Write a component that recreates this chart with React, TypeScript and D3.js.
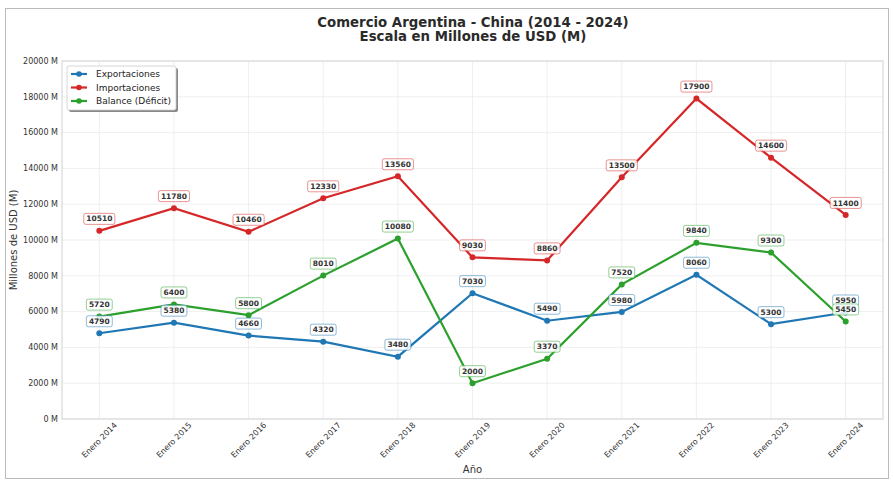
import React, { useEffect, useRef } from 'react';
import * as d3 from 'd3';

const years = ['Enero 2014', 'Enero 2015', 'Enero 2016', 'Enero 2017', 'Enero 2018', 'Enero 2019', 'Enero 2020', 'Enero 2021', 'Enero 2022', 'Enero 2023', 'Enero 2024'];
const exportaciones = [4790, 5380, 4660, 4320, 3480, 7030, 5490, 5980, 8060, 5300, 5950];
const importaciones = [10510, 11780, 10460, 12330, 13560, 9030, 8860, 13500, 17900, 14600, 11400];
const balance = [5720, 6400, 5800, 8010, 10080, 2000, 3370, 7520, 9840, 9300, 5450];
const yTicks = [0, 2000, 4000, 6000, 8000, 10000, 12000, 14000, 16000, 18000, 20000];

const series = [
  { name: 'Exportaciones', values: exportaciones, color: '#1f77b4' },
  { name: 'Importaciones', values: importaciones, color: '#d62728' },
  { name: 'Balance (Déficit)', values: balance, color: '#2ca02c' },
];

const FONT = '"DejaVu Sans", sans-serif';

export default function App() {
  const svgRef = useRef<SVGSVGElement>(null);

  useEffect(() => {
    if (!svgRef.current) return;
    const svg = d3.select(svgRef.current);
    svg.selectAll('*').remove();

    const width = 894;
    const height = 487;
    const margin = { top: 61, right: 11, bottom: 68, left: 62 };

    svg.append('rect').attr('width', width).attr('height', height).attr('fill', '#fff');
    // figure frame
    svg.append('rect')
      .attr('x', 5.5).attr('y', 8.5).attr('width', 883).attr('height', 470)
      .attr('fill', 'none').attr('stroke', '#bbb').attr('stroke-width', 1);

    const x = d3.scaleLinear()
      .domain([-0.5, years.length - 0.5])
      .range([margin.left, width - margin.right]);
    const y = d3.scaleLinear()
      .domain([0, 20000])
      .range([height - margin.bottom, margin.top]);

    // grid
    const grid = svg.append('g');
    grid.selectAll('.gy').data(yTicks).enter().append('line')
      .attr('x1', margin.left).attr('x2', width - margin.right)
      .attr('y1', d => y(d)).attr('y2', d => y(d))
      .attr('stroke', '#ebebeb').attr('stroke-width', 0.8);
    grid.selectAll('.gx').data(years).enter().append('line')
      .attr('x1', (_, i) => x(i)).attr('x2', (_, i) => x(i))
      .attr('y1', margin.top).attr('y2', height - margin.bottom)
      .attr('stroke', '#ebebeb').attr('stroke-width', 0.8);

    // plot frame
    svg.append('rect')
      .attr('x', margin.left).attr('y', margin.top)
      .attr('width', width - margin.left - margin.right)
      .attr('height', height - margin.top - margin.bottom)
      .attr('fill', 'none').attr('stroke', '#d9d9d9').attr('stroke-width', 1.2);

    // y tick labels
    svg.append('g').selectAll('text').data(yTicks).enter().append('text')
      .attr('x', margin.left - 4).attr('y', d => y(d)).attr('dy', '0.35em')
      .attr('text-anchor', 'end').attr('font-size', 8).attr('font-family', FONT)
      .attr('fill', '#333').text(d => `${d} M`);

    // x tick labels (centred on tick, rotated 45°)
    svg.append('g').selectAll('text').data(years).enter().append('text')
      .attr('transform', (_, i) => `translate(${x(i)},${height - margin.bottom + 21}) rotate(-45)`)
      .attr('text-anchor', 'middle').attr('dy', '0.35em')
      .attr('font-size', 8).attr('font-family', FONT).attr('fill', '#333')
      .text(d => d);

    // axis titles
    svg.append('text')
      .attr('x', (margin.left + width - margin.right) / 2).attr('y', 473)
      .attr('text-anchor', 'middle').attr('font-size', 10).attr('font-family', FONT)
      .attr('fill', '#333').text('Año');
    svg.append('text')
      .attr('transform', `translate(17,${(margin.top + height - margin.bottom) / 2}) rotate(-90)`)
      .attr('text-anchor', 'middle').attr('font-size', 10).attr('font-family', FONT)
      .attr('fill', '#333').text('Millones de USD (M)');

    // title
    const title = svg.append('text').attr('text-anchor', 'middle')
      .attr('font-size', 13.3).attr('font-weight', 'bold').attr('font-family', FONT).attr('fill', '#2a2a2a');
    title.append('tspan').attr('x', 473).attr('y', 27).text('Comercio Argentina - China (2014 - 2024)');
    title.append('tspan').attr('x', 473).attr('y', 41).text('Escala en Millones de USD (M)');

    const line = d3.line<number>().x((_, i) => x(i)).y(d => y(d));

    series.forEach(s => {
      const g = svg.append('g');
      g.append('path').datum(s.values)
        .attr('fill', 'none').attr('stroke', s.color).attr('stroke-width', 2.2)
        .attr('d', line);
      g.selectAll('circle').data(s.values).enter().append('circle')
        .attr('cx', (_, i) => x(i)).attr('cy', d => y(d)).attr('r', 3)
        .attr('fill', s.color);
    });

    // value labels
    series.forEach(s => {
      const g = svg.append('g');
      s.values.forEach((v, i) => {
        const cx = x(i);
        const cy = y(v) - 12;
        const t = g.append('text')
          .attr('x', cx).attr('y', cy).attr('dy', '0.35em')
          .attr('text-anchor', 'middle').attr('font-size', 7.5).attr('font-weight', 'bold')
          .attr('font-family', FONT).attr('fill', '#333').text(String(v));
        const bb = (t.node() as SVGTextElement).getBBox();
        g.insert('rect', () => t.node() as SVGTextElement)
          .attr('x', bb.x - 2.5).attr('y', cy - 5.5)
          .attr('width', bb.width + 5).attr('height', 11)
          .attr('rx', 2)
          .attr('fill', 'rgba(255,255,255,0.85)')
          .attr('stroke', s.color).attr('stroke-opacity', 0.5).attr('stroke-width', 1);
      });
    });

    // legend
    const lg = svg.append('g').attr('transform', 'translate(67,66)');
    lg.append('rect').attr('x', 2).attr('y', 2).attr('width', 109).attr('height', 44)
      .attr('rx', 2).attr('fill', '#888');
    lg.append('rect').attr('x', 0).attr('y', 0).attr('width', 109).attr('height', 44)
      .attr('rx', 2).attr('fill', '#fff').attr('stroke', '#ccc').attr('stroke-width', 0.8);
    series.forEach((s, i) => {
      const yy = 8 + i * 13.5;
      lg.append('line').attr('x1', 4).attr('x2', 20).attr('y1', yy).attr('y2', yy)
        .attr('stroke', s.color).attr('stroke-width', 2.2);
      lg.append('circle').attr('cx', 12).attr('cy', yy).attr('r', 2.8).attr('fill', s.color);
      lg.append('text').attr('x', 29).attr('y', yy).attr('dy', '0.35em')
        .attr('font-size', 9).attr('font-family', FONT).attr('fill', '#222').text(s.name);
    });
  }, []);

  return (
    <svg ref={svgRef} width={894} height={487} viewBox="0 0 894 487"
      style={{ position: 'absolute', left: 0, top: 0, display: 'block' }} />
  );
}
